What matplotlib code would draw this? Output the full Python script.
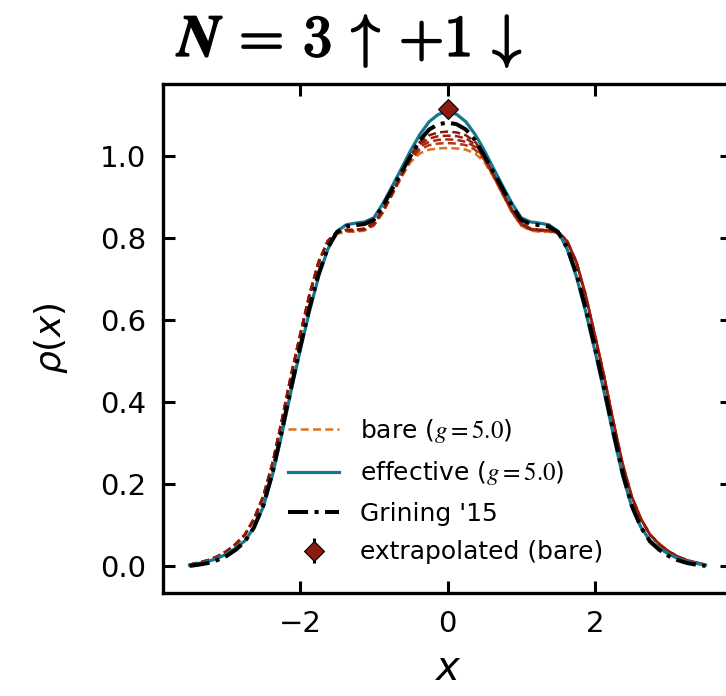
import matplotlib
matplotlib.use("Agg")
import matplotlib.pyplot as plt
import matplotlib.patheffects as pe

# ---- data ----
x = [-3.5, -3.375, -3.25, -3.125, -3.0, -2.875, -2.75, -2.625, -2.5, -2.375, -2.25,
     -2.125, -2.0, -1.875, -1.75, -1.625, -1.5, -1.375, -1.25, -1.125, -1.0,
     -0.875, -0.75, -0.625, -0.5, -0.375, -0.25, -0.125, 0.0,
     0.125, 0.25, 0.375, 0.5, 0.625, 0.75, 0.875, 1.0, 1.125, 1.25, 1.375, 1.5,
     1.625, 1.75, 1.875, 2.0, 2.125, 2.25, 2.375, 2.5, 2.625, 2.75, 2.875, 3.0,
     3.125, 3.25, 3.375, 3.5]

effective = [0.003, 0.007, 0.012, 0.019, 0.030, 0.044, 0.062, 0.095, 0.145, 0.222, 0.320,
             0.425, 0.525, 0.620, 0.705, 0.772, 0.816, 0.832, 0.836, 0.839, 0.849,
             0.884, 0.926, 0.969, 1.013, 1.052, 1.083, 1.101, 1.108,
             1.101, 1.083, 1.052, 1.013, 0.969, 0.926, 0.884, 0.849, 0.839, 0.836, 0.832, 0.816,
             0.772, 0.705, 0.620, 0.525, 0.425, 0.320, 0.222, 0.145, 0.095, 0.062, 0.044, 0.030,
             0.019, 0.012, 0.007, 0.003]

grining = [0.001, 0.004, 0.008, 0.015, 0.025, 0.040, 0.060, 0.095, 0.148, 0.228, 0.328,
           0.433, 0.533, 0.628, 0.712, 0.776, 0.814, 0.828, 0.831, 0.834, 0.844,
           0.878, 0.919, 0.960, 1.000, 1.038, 1.064, 1.077, 1.081,
           1.077, 1.064, 1.038, 1.000, 0.960, 0.919, 0.878, 0.844, 0.834, 0.831, 0.828, 0.814,
           0.776, 0.712, 0.628, 0.533, 0.433, 0.328, 0.228, 0.148, 0.095, 0.060, 0.040, 0.025,
           0.015, 0.008, 0.004, 0.001]

bare_1 = [0.004, 0.009, 0.015, 0.024, 0.037, 0.055, 0.078, 0.117, 0.172, 0.252, 0.355,
          0.465, 0.565, 0.662, 0.742, 0.790, 0.810, 0.815, 0.815, 0.818, 0.830,
          0.862, 0.905, 0.948, 0.985, 1.006, 1.015, 1.018, 1.019,
          1.018, 1.015, 1.006, 0.985, 0.948, 0.905, 0.862, 0.830, 0.818, 0.815, 0.815, 0.810,
          0.790, 0.742, 0.662, 0.565, 0.465, 0.355, 0.252, 0.172, 0.117, 0.078, 0.055, 0.037,
          0.024, 0.015, 0.009, 0.004]
bare_2 = [0.004, 0.009, 0.015, 0.024, 0.037, 0.054, 0.077, 0.116, 0.171, 0.251, 0.354,
          0.464, 0.564, 0.661, 0.742, 0.791, 0.812, 0.817, 0.817, 0.820, 0.831,
          0.863, 0.906, 0.950, 0.990, 1.015, 1.026, 1.030, 1.031,
          1.030, 1.026, 1.015, 0.990, 0.950, 0.906, 0.863, 0.831, 0.820, 0.817, 0.817, 0.812,
          0.791, 0.742, 0.661, 0.564, 0.464, 0.354, 0.251, 0.171, 0.116, 0.077, 0.054, 0.037,
          0.024, 0.015, 0.009, 0.004]
bare_3 = [0.004, 0.009, 0.015, 0.024, 0.036, 0.054, 0.077, 0.115, 0.170, 0.250, 0.353,
          0.463, 0.563, 0.660, 0.741, 0.792, 0.813, 0.818, 0.818, 0.821, 0.833,
          0.865, 0.908, 0.952, 0.994, 1.022, 1.034, 1.039, 1.040,
          1.039, 1.034, 1.022, 0.994, 0.952, 0.908, 0.865, 0.833, 0.821, 0.818, 0.818, 0.813,
          0.792, 0.741, 0.660, 0.563, 0.463, 0.353, 0.250, 0.170, 0.115, 0.077, 0.054, 0.036,
          0.024, 0.015, 0.009, 0.004]
bare_4 = [0.004, 0.009, 0.014, 0.023, 0.036, 0.053, 0.076, 0.115, 0.169, 0.249, 0.352,
          0.462, 0.562, 0.659, 0.740, 0.792, 0.814, 0.819, 0.819, 0.822, 0.835,
          0.867, 0.910, 0.954, 0.998, 1.028, 1.042, 1.048, 1.049,
          1.048, 1.042, 1.028, 0.998, 0.954, 0.910, 0.867, 0.835, 0.822, 0.819, 0.819, 0.814,
          0.792, 0.740, 0.659, 0.562, 0.462, 0.352, 0.249, 0.169, 0.115, 0.076, 0.053, 0.036,
          0.023, 0.014, 0.009, 0.004]
bare_5 = [0.004, 0.009, 0.014, 0.023, 0.036, 0.053, 0.076, 0.114, 0.168, 0.248, 0.351,
          0.461, 0.561, 0.658, 0.739, 0.793, 0.815, 0.820, 0.820, 0.823, 0.837,
          0.869, 0.912, 0.956, 1.002, 1.034, 1.050, 1.057, 1.059,
          1.057, 1.050, 1.034, 1.002, 0.956, 0.912, 0.869, 0.837, 0.823, 0.820, 0.820, 0.815,
          0.793, 0.739, 0.658, 0.561, 0.461, 0.351, 0.248, 0.168, 0.114, 0.076, 0.053, 0.036,
          0.023, 0.014, 0.009, 0.004]
bare_series = [bare_1, bare_2, bare_3, bare_4, bare_5]
bare_colors = ["#d9721f", "#b8361a", "#a82a13", "#9a200e", "#8c180a"]

extrap_x = [0.0]
extrap_y = [1.114]
extrap_err = [0.008]

x_ticks = [-2, 0, 2]
x_ticklabels = ["\u22122", "0", "2"]
y_ticks = [0.0, 0.2, 0.4, 0.6, 0.8, 1.0]
y_ticklabels = ["0.0", "0.2", "0.4", "0.6", "0.8", "1.0"]

# ---- figure ----
plt.rcParams["font.family"] = ["DejaVu Sans"]
plt.rcParams["mathtext.fontset"] = "dejavusans"

fig = plt.figure(figsize=(7.26, 6.96), dpi=100)
ax = fig.add_axes([163 / 726, 1 - 593 / 696, (732 - 163) / 726, (593 - 84) / 696])

for i, (ys, c) in enumerate(zip(bare_series, bare_colors)):
    ax.plot(x, ys, ls=(0, (3.2, 1.7)), color=c, lw=1.8,
            label=r"bare ($g = 5.0$)" if i == 0 else None, zorder=2)
ax.plot(x, effective, color="#137890", lw=2.3, label=r"effective ($g = 5.0$)", zorder=3)
ax.plot(x, grining, color="black", lw=2.9, ls=(0, (5, 1.6, 1.0, 1.6)),
        label="Grining '15", zorder=4)
ax.errorbar(extrap_x, extrap_y, yerr=extrap_err, fmt="D", color="#8b1a10",
            mec="black", mew=0.8, ms=10, ecolor="black", elinewidth=2.2,
            label="extrapolated (bare)", zorder=6)

ax.set_xlim(-3.86, 3.86)
ax.set_ylim(-0.065, 1.175)
ax.set_xticks(x_ticks)
ax.set_yticks(y_ticks)
ax.set_xticklabels(x_ticklabels)
ax.set_yticklabels(y_ticklabels)
ax.tick_params(direction="in", length=8.5, width=2.2, labelsize=21,
               top=True, right=True, pad=12)
for s in ax.spines.values():
    s.set_linewidth(2.4)

ax.set_xlabel(r"$x$", fontsize=29, labelpad=8)
ax.set_ylabel(r"$\rho(x)$", fontsize=26, labelpad=22)

leg = ax.legend(loc="center", bbox_to_anchor=(0.497, 0.201), frameon=False,
                fontsize=18, handlelength=2.05, handletextpad=0.85, labelspacing=0.58)
for t in leg.get_texts():
    t.set_math_fontfamily("stix")

title = r"$\mathbfit{N}\,=\,\mathbf{3}\,\uparrow\,{+}\mathbf{1}\,\downarrow$"
fig.text(178 / 726, 1 - 56 / 696, title,
         fontsize=42, math_fontfamily="cm", ha="left", va="baseline",
         path_effects=[pe.withStroke(linewidth=1.4, foreground="black")])

fig.savefig("out.png", dpi=100)
